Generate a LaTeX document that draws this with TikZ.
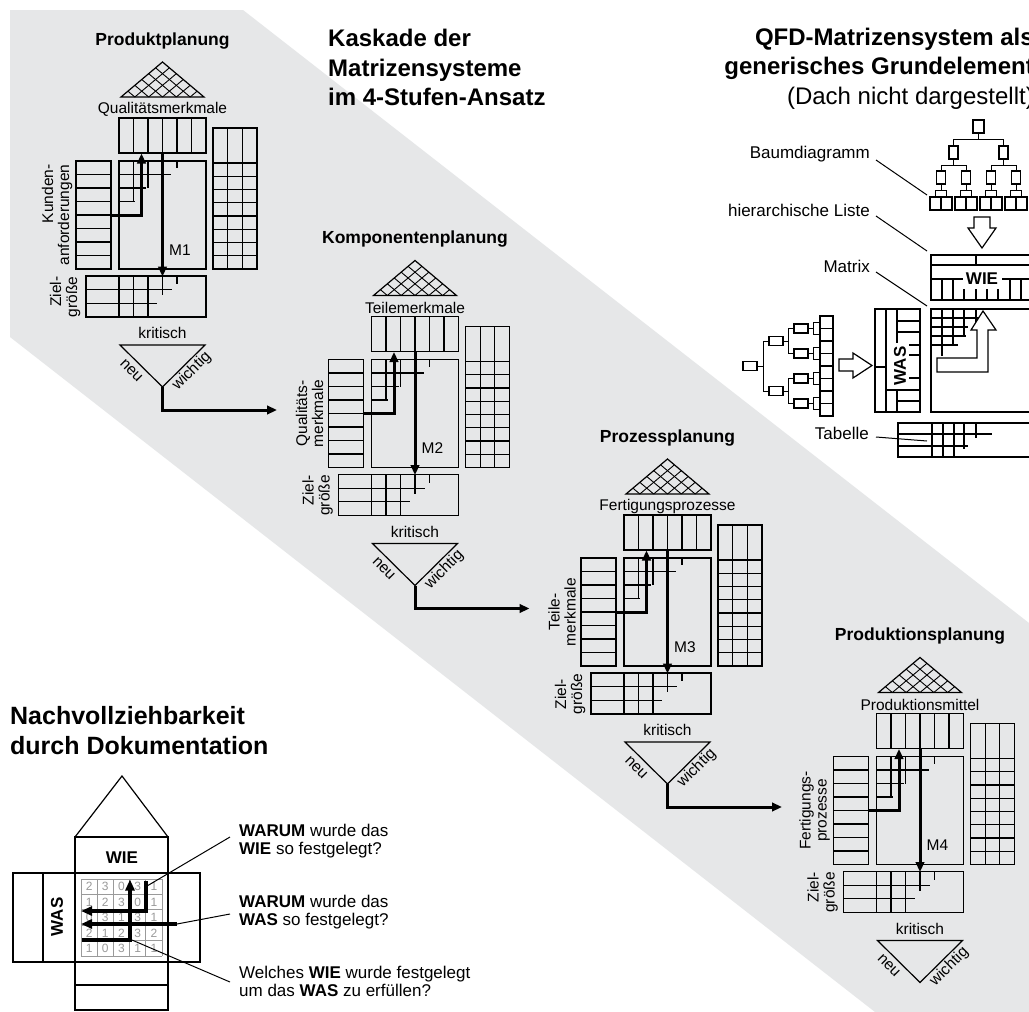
\documentclass[tikz,border=0pt]{standalone}
\usepackage{fontspec}
\setmainfont{Liberation Sans}
\usetikzlibrary{arrows.meta,calc}
\definecolor{band}{HTML}{E6E7E8}
\definecolor{cellgrey}{HTML}{9A9A9A}

\tikzset{
  ln/.style={line width=1.2pt},
  leader/.style={line width=1pt},
  hatch/.style={line width=0.9pt},
  flow/.style={line width=3pt,-{Triangle[length=10pt,width=8.5pt]}},
  docflow/.style={line width=3.2pt,-{Triangle[length=11pt,width=9pt]}},
  bigttl/.style={font=\fontsize{24}{29.5}\selectfont\bfseries,inner sep=0pt},
  stagettl/.style={font=\fontsize{17.5}{20}\selectfont\bfseries,inner sep=0pt},
  lbl/.style={font=\fontsize{15.5}{16}\selectfont,inner sep=0pt},
  note/.style={font=\fontsize{17}{18}\selectfont,inner sep=0pt},
  keyword/.style={font=\fontsize{17}{18}\selectfont\bfseries,inner sep=0pt},
  num/.style={font=\fontsize{12}{12}\selectfont,text=cellgrey,inner sep=0pt},
  vbox/.style={draw,line width=1.1pt,inner sep=0pt,minimum width=#1,minimum height=13pt},
  hbox/.style={draw,line width=1.1pt,inner sep=0pt,minimum width=14pt,minimum height=#1},
}

% One planning stage of the QFD cascade: roof, matrices, filter triangle
% #1 index, #2 title, #3 column header, #4 row header, #5 matrix name,
% #6 alignment of the row header, #7 alignment of the target label
\newcommand{\qfdstage}[7]{%
  \begin{scope}[shift={({(#1-1)*252.5},{(#1-1)*198.5})}]
    \node[stagettl] (title#1) at (162.5,41) {#2};
    % roof (correlation matrix)
    \coordinate (rl#1) at (121,97);
    \coordinate (rr#1) at (204,97);
    \coordinate (ra#1) at (162.5,62);
    \foreach \hh in {1,...,5}{
      \draw[hatch] ($(rl#1)!\hh/6!(rr#1)$) -- ($(rr#1)!{1-\hh/6}!(ra#1)$);
      \draw[hatch] ($(rl#1)!\hh/6!(rr#1)$) -- ($(rl#1)!{\hh/6}!(ra#1)$);
    }
    \draw[ln] (rl#1) -- (rr#1) -- (ra#1) -- cycle;
    \node[lbl] (hdr#1) at (162.5,109) {#3};
    % column headers
    \draw[ln] (119,118) rectangle (206,153);
    \foreach \x in {133.5,148,162.5,177,191.5} \draw[ln] (\x,118) -- (\x,153);
    % competition / target block on the right
    \draw[ln] (213,128) rectangle (257,269);
    \foreach \x in {227.7,242.3} \draw[ln] (\x,128) -- (\x,269);
    \foreach \y in {163,176.25,189.5,202.75,216,229.25,242.5,255.75} \draw[ln] (213,\y) -- (257,\y);
    % row headers
    \draw[ln] (76,161) rectangle (111,269);
    \foreach \y in {174.5,188,201.5,215,228.5,242,255.5} \draw[ln] (76,\y) -- (111,\y);
    % relationship matrix
    \draw[ln] (119,161) rectangle (206,269);
    \draw[ln] (133.5,161) -- (133.5,202);
    \draw[ln] (148,161) -- (148,188);
    \draw[ln] (162.5,161) -- (162.5,215);
    \draw[ln] (177,161) -- (177,168);
    \draw[ln] (119,174.5) -- (171,174.5);
    \draw[ln] (119,188) -- (146,188);
    \draw[ln] (119,201.5) -- (135,201.5);
    \node[lbl] (m#1) at (180,250) {#5};
    % target values
    \draw[ln] (86,276) rectangle (206,317);
    \foreach \x in {119,133.5,148} \draw[ln] (\x,276) -- (\x,317);
    \draw[ln] (86,289.7) -- (172,289.7);
    \draw[ln] (86,303.3) -- (157,303.3);
    \draw[ln] (162.5,276) -- (162.5,295);
    \draw[ln] (177,276) -- (177,284);
    \node[lbl,rotate=90,align=#7] (ziel#1) at (65,297) {Ziel-\\größe};
    \node[lbl,rotate=90,align=#6] (rows#1) at (57,215) {#4};
    % information flow inside the stage
    \coordinate (lm#1) at (111,215);
    \coordinate (tm#1) at (141.5,153.5);
    \coordinate (cs#1) at (162.5,153);
    \coordinate (bs#1) at (162.5,276.5);
    \draw[flow] (lm#1) -| (tm#1);
    \draw[flow] (cs#1) -- (bs#1);
    % selection triangle
    \node[lbl] (crit#1) at (162.5,333) {kritisch};
    \coordinate (tl#1) at (120,345);
    \coordinate (tr#1) at (205,345);
    \coordinate (apex#1) at (162.5,387);
    \draw[ln] (tl#1) -- (tr#1) -- (apex#1) -- cycle;
    \node[lbl,rotate=-45] (neu#1) at (131.3,370.3) {neu};
    \node[lbl,rotate=45] (wichtig#1) at (191.8,371.3) {wichtig};
    \coordinate (feed#1) at (277,410);
  \end{scope}}

\begin{document}
\begin{tikzpicture}[x=1pt,y=-1pt]
  \clip (0,0) rectangle (1029,1012);
  \fill[white] (0,0) rectangle (1029,1012);

  % diagonal band behind the cascade
  \fill[band] (10,10) -- (243,10) -- (1029,623) -- (1029,1012) -- (875,1012) -- (10,337) -- cycle;

  % headings
  \node[bigttl,anchor=west,align=left] (cascade) at (328,67.5)
    {Kaskade der\\Matrizensysteme\\im 4-Stufen-Ansatz};
  \node[anchor=east,align=right,inner sep=0pt,font=\fontsize{24}{29.5}\selectfont] (generic) at (1034,68.5)
    {\textbf{QFD-Matrizensystem als}\\\textbf{generisches Grundelement}\\(Dach nicht dargestellt)};
  \node[anchor=west,align=left,inner sep=0pt,font=\fontsize{25}{29.5}\selectfont\bfseries] (trace) at (10,730.5)
    {Nachvollziehbarkeit\\durch Dokumentation};

  % the four stages
  \qfdstage{1}{Produktplanung}{Qualitätsmerkmale}{Kunden-\\anforderungen}{M1}{right}{right}
  \qfdstage{2}{Komponentenplanung}{Teilemerkmale}{Qualitäts-\\merkmale}{M2}{center}{right}
  \qfdstage{3}{Prozessplanung}{Fertigungsprozesse}{Teile-\\merkmale}{M3}{center}{center}
  \qfdstage{4}{Produktionsplanung}{Produktionsmittel}{Fertigungs-\\prozesse}{M4}{center}{right}
  \foreach \i in {1,2,3} \draw[flow] (apex\i) |- (feed\i);

  % ---------- generic element ----------
  % tree diagram (top)
  \node[vbox=11pt] (t0) at (978.5,126.5) {};
  \node[vbox=9pt] (t1) at (953.5,152.5) {};
  \node[vbox=9pt] (t2) at (1003.5,152.5) {};
  \foreach \n/\x in {a/941,b/966,c/991,d/1016}{
    \node[vbox=9pt] (t3\n) at (\x,177.5) {};
    \node[vbox=11pt] (t4\n1) at (\x-5.5,203.5) {};
    \node[vbox=11pt] (t4\n2) at (\x+5.5,203.5) {};
    \draw[leader] (t3\n.south) -- ++(0,6) -| (t4\n1.north);
    \draw[leader] (t3\n.south) -- ++(0,6) -| (t4\n2.north);
  }
  \foreach \p in {1,2} \draw[leader] (t0.south) -- ++(0,6) -| (t\p.north);
  \foreach \n in {a,b} \draw[leader] (t1.south) -- ++(0,6) -| (t3\n.north);
  \foreach \n in {c,d} \draw[leader] (t2.south) -- ++(0,6) -| (t3\n.north);

  % tree diagram (left)
  \node[hbox=9pt] (h0) at (750,366) {};
  \node[hbox=9pt] (h1) at (776,341) {};
  \node[hbox=9pt] (h2) at (776,391) {};
  \foreach \n/\y in {a/328.5,b/353.5,c/378.5,d/403.5}{
    \node[hbox=9pt] (h3\n) at (801,\y) {};
    \node[hbox=12.5pt,minimum width=13pt] (h4\n1) at (826.5,\y-6.25) {};
    \node[hbox=12.5pt,minimum width=13pt] (h4\n2) at (826.5,\y+6.25) {};
    \draw[leader] (h3\n.east) -- ++(5,0) |- (h4\n1.west);
    \draw[leader] (h3\n.east) -- ++(5,0) |- (h4\n2.west);
  }
  \foreach \p in {1,2} \draw[leader] (h0.east) -- ++(6,0) |- (h\p.west);
  \foreach \n in {a,b} \draw[leader] (h1.east) -- ++(5,0) |- (h3\n.west);
  \foreach \n in {c,d} \draw[leader] (h2.east) -- ++(5,0) |- (h3\n.west);

  % hollow block arrows
  \draw[ln] (974,217) -- (990,217) -- (990,228) -- (996,228) -- (982,248) -- (968,228) -- (974,228) -- cycle;
  \draw[ln] (839,359) -- (853,359) -- (853,353) -- (872,365.5) -- (853,378) -- (853,371) -- (839,371) -- cycle;

  % WIE block
  \draw[ln] (931,255) rectangle (1060,300);
  \draw[ln] (931,265) -- (1060,265);
  \draw[ln] (976,255) -- (976,265);
  \draw[ln] (931,279) -- (963,279);
  \draw[ln] (1002,279) -- (1060,279);
  \foreach \x in {942,953,1010,1021} \draw[ln] (\x,279) -- (\x,300);
  \foreach \x in {964,976,987,998} \draw[ln] (\x,289) -- (\x,300);
  \node[keyword] (wie) at (982,279) {WIE};

  % WAS block
  \draw[ln] (875,309) rectangle (920,412);
  \draw[ln] (886,309) -- (886,412);
  \draw[ln] (897,309) -- (897,343);
  \draw[ln] (897,390) -- (897,412);
  \foreach \y in {321,332} \draw[ln] (897,\y) -- (920,\y);
  \foreach \y in {345,355,378} \draw[ln] (909,\y) -- (920,\y);
  \draw[ln] (875,367) -- (886,367);
  \draw[ln] (886,390) -- (920,390);
  \draw[ln] (897,401) -- (920,401);
  \node[keyword,rotate=90] (was) at (900,366) {WAS};

  % relationship matrix
  \draw[ln] (931,309) rectangle (1060,412);
  \draw[ln] (942,309) -- (942,356);
  \draw[ln] (953,309) -- (953,345);
  \draw[ln] (964,309) -- (964,336);
  \draw[ln] (976,309) -- (976,327);
  \draw[ln] (931,318) -- (979,318);
  \draw[ln] (931,327) -- (968,327);
  \draw[ln] (931,336) -- (966,336);
  \draw[ln] (931,345) -- (958,345);
  \draw[ln,fill=white] (937,358) -- (977,358) -- (977,330) -- (971,330) -- (983,311) -- (996,330) -- (988,330) -- (988,372) -- (937,372) -- cycle;

  % table below
  \draw[ln] (898,423) rectangle (1060,457);
  \draw[ln] (898,434) -- (992,434);
  \draw[ln] (898,446) -- (968,446);
  \foreach \x in {932,943,954} \draw[ln] (\x,423) -- (\x,457);
  \draw[ln] (964,423) -- (964,449);
  \draw[ln] (976,423) -- (976,438);

  % labels with leaders
  \node[note,anchor=east] (lbaum) at (870,154) {Baumdiagramm};
  \node[note,anchor=east] (lliste) at (870,210) {hierarchische Liste};
  \node[note,anchor=east] (lmatrix) at (870,266) {Matrix};
  \node[note,anchor=east] (ltab) at (869,433) {Tabelle};
  \coordinate (pbaum) at (927,195);
  \coordinate (pliste) at (927,251);
  \coordinate (pmatrix) at (927,306);
  \coordinate (ptab) at (927,441);
  \draw[leader] ($(lbaum.east)+(6,6)$) -- (pbaum);
  \draw[leader] ($(lliste.east)+(6,6)$) -- (pliste);
  \draw[leader] ($(lmatrix.east)+(6,6)$) -- (pmatrix);
  \draw[leader] ($(ltab.east)+(7,4)$) -- (ptab);

  % ---------- traceability ----------
  \draw[ln] (75,837) -- (122,776) -- (168,837);
  \draw[ln] (75,837) rectangle (168,1010);
  \draw[ln] (13,873) rectangle (200,962);
  \draw[ln] (43,873) -- (43,962);
  \draw[ln] (75,985) -- (168,985);
  \node[keyword] (dwie) at (122,858) {WIE};
  \node[keyword,rotate=90] (dwas) at (57,917) {WAS};
  \foreach \i in {0,...,5}{
    \draw[cellgrey,line width=0.8pt] ({81+\i*16.2},879) -- ({81+\i*16.2},956);
    \draw[cellgrey,line width=0.8pt] (81,{879+\i*15.4}) -- (162,{879+\i*15.4});
  }
  \foreach \row [count=\ri from 0] in {{2,3,0,3,1},{1,2,3,0,1},{0,3,1,3,1},{2,1,2,3,2},{1,0,3,1,1}}
    \foreach \v [count=\ci from 0] in \row
      \node[num] at ({89.1+\ci*16.2},{886.7+\ri*15.4}) {\v};

  \coordinate (aS) at (81.5,940);
  \coordinate (aE) at (130,879.5);
  \coordinate (bS) at (146,881);
  \coordinate (bE) at (81,911);
  \coordinate (cS) at (177,924);
  \coordinate (cE) at (81,924);
  \draw[docflow] (aS) -| (aE);
  \draw[docflow] (bS) |- (bE);
  \draw[docflow] (cS) -- (cE);

  \node[note,anchor=west,align=left] (q1) at (239,841.5) {\textbf{WARUM} wurde das\\\textbf{WIE} so festgelegt?};
  \node[note,anchor=west,align=left] (q2) at (239,912.5) {\textbf{WARUM} wurde das\\\textbf{WAS} so festgelegt?};
  \node[note,anchor=west,align=left] (q3) at (239,981) {Welches \textbf{WIE} wurde festgelegt\\um das \textbf{WAS} zu erfüllen?};
  \draw[leader] (147,886) -- (230,837);
  \draw[leader] (cS) -- (230,914);
  \draw[leader] (132,940) -- (230,982);
\end{tikzpicture}
\end{document}
